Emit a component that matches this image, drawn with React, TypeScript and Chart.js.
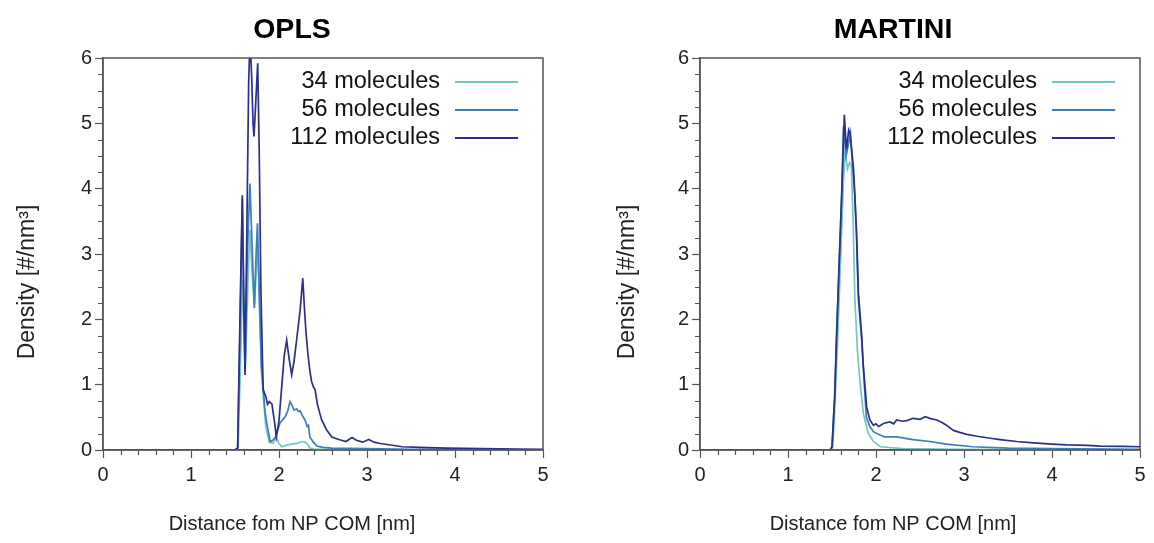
import React, { useEffect, useRef } from "react";
import { Chart, registerables } from "chart.js";

Chart.register(...registerables);

const FONT = "'Liberation Sans', Arial, Helvetica, sans-serif";

// ---------- labels ----------
const seriesLabels = ["34 molecules", "56 molecules", "112 molecules"];
const seriesColors = ["#74c6c8", "#3d7fb9", "#2b2f8d"];
const xAxisTitle = "Distance fom NP COM [nm]";
const yAxisTitle = "Density [#/nm³]";
const panelTitles = ["OPLS", "MARTINI"];

// ---------- OPLS ----------
const opls34X = [0, 1.5, 1.535, 1.56, 1.585, 1.605, 1.62, 1.645, 1.67, 1.695, 1.72, 1.74, 1.76, 1.78, 1.8, 1.815, 1.85, 1.89, 1.93, 1.97, 2.0, 2.03, 2.08, 2.14, 2.2, 2.26, 2.3, 2.33, 2.35, 2.4, 2.5, 3.0, 5.0];
const opls34Y = [0, 0, 0.03, 1.2, 2.6, 1.8, 1.3, 2.5, 3.37, 2.7, 2.2, 2.7, 3.1, 2.1, 1.2, 0.95, 0.35, 0.12, 0.1, 0.2, 0.1, 0.05, 0.07, 0.09, 0.1, 0.13, 0.12, 0.08, 0.03, 0.01, 0.01, 0.0, 0];

const opls56X = [0, 1.5, 1.53, 1.555, 1.583, 1.6, 1.614, 1.64, 1.67, 1.695, 1.72, 1.74, 1.755, 1.78, 1.8, 1.82, 1.84, 1.86, 1.9, 1.93, 1.96, 2.01, 2.07, 2.1, 2.125, 2.15, 2.17, 2.2, 2.22, 2.24, 2.26, 2.295, 2.32, 2.335, 2.35, 2.39, 2.43, 2.5, 2.6, 3.0, 3.5, 4.0, 5.0];
const opls56Y = [0, 0, 0.03, 1.7, 3.85, 2.2, 1.2, 3.0, 4.08, 3.1, 2.17, 3.0, 3.47, 2.2, 1.3, 0.97, 0.6, 0.41, 0.13, 0.15, 0.2, 0.41, 0.51, 0.6, 0.74, 0.68, 0.61, 0.63, 0.59, 0.6, 0.54, 0.46, 0.36, 0.38, 0.2, 0.12, 0.06, 0.04, 0.03, 0.02, 0.01, 0.01, 0];

const opls112X = [0, 1.5, 1.53, 1.555, 1.583, 1.6, 1.614, 1.635, 1.655, 1.67, 1.69, 1.705, 1.716, 1.735, 1.758, 1.775, 1.795, 1.82, 1.85, 1.87, 1.89, 1.92, 1.95, 1.97, 1.985, 2.0, 2.03, 2.06, 2.087, 2.115, 2.144, 2.17, 2.2, 2.24, 2.27, 2.29, 2.307, 2.33, 2.35, 2.37, 2.39, 2.41, 2.435, 2.46, 2.485, 2.54, 2.6, 2.68, 2.76, 2.83, 2.88, 2.95, 3.02, 3.08, 3.15, 3.25, 3.4, 3.6, 3.9, 4.3, 4.7, 5.0];
const opls112Y = [0, 0, 0.03, 1.9, 3.9, 2.3, 1.15, 3.4, 5.6, 6.3, 5.7, 5.0, 4.8, 5.3, 5.92, 4.6, 2.4, 0.92, 0.82, 0.7, 0.74, 0.7, 0.42, 0.2, 0.32, 0.45, 0.95, 1.45, 1.68, 1.4, 1.15, 1.35, 1.68, 2.14, 2.63, 2.15, 1.79, 1.45, 1.22, 1.05, 0.97, 0.92, 0.71, 0.58, 0.46, 0.31, 0.2, 0.16, 0.13, 0.19, 0.15, 0.12, 0.16, 0.12, 0.1, 0.08, 0.05, 0.04, 0.03, 0.02, 0.015, 0.01];

// ---------- MARTINI ----------
const mart34X = [0, 1.49, 1.51, 1.54, 1.57, 1.6, 1.63, 1.65, 1.675, 1.7, 1.72, 1.74, 1.76, 1.79, 1.82, 1.856, 1.91, 1.97, 2.05, 2.3, 3.0, 5.0];
const mart34Y = [0, 0, 0.05, 0.9, 1.9, 3.0, 4.1, 4.6, 4.3, 4.4, 4.35, 3.5, 2.3, 1.5, 1.02, 0.56, 0.26, 0.13, 0.05, 0.02, 0.01, 0];

const mart56X = [0, 1.48, 1.5, 1.53, 1.553, 1.58, 1.61, 1.63, 1.66, 1.69, 1.71, 1.73, 1.76, 1.78, 1.8, 1.837, 1.856, 1.89, 1.93, 1.97, 2.045, 2.1, 2.235, 2.42, 2.61, 2.8, 3.1, 3.5, 4.0, 5.0];
const mart56Y = [0, 0, 0.05, 0.8, 1.75, 2.8, 3.9, 4.95, 4.5, 4.7, 4.85, 4.4, 3.9, 3.2, 2.3, 1.7, 1.25, 0.5, 0.36, 0.28, 0.23, 0.2, 0.2, 0.16, 0.13, 0.09, 0.05, 0.03, 0.02, 0.01];

const mart112X = [0, 1.48, 1.5, 1.53, 1.553, 1.58, 1.61, 1.64, 1.65, 1.665, 1.69, 1.705, 1.72, 1.745, 1.78, 1.8, 1.837, 1.856, 1.894, 1.93, 1.97, 2.0, 2.03, 2.09, 2.16, 2.2, 2.235, 2.3, 2.35, 2.42, 2.5, 2.56, 2.62, 2.69, 2.75, 2.8, 2.88, 2.95, 3.03, 3.15, 3.3, 3.41, 3.6, 3.79, 4.0, 4.17, 4.4, 4.55, 4.8, 5.0];
const mart112Y = [0, 0, 0.05, 0.8, 1.79, 2.8, 3.9, 5.13, 4.9, 4.6, 4.9, 4.85, 4.64, 4.3, 3.3, 2.4, 1.75, 1.28, 0.66, 0.46, 0.38, 0.4, 0.36, 0.41, 0.43, 0.4, 0.46, 0.44, 0.45, 0.485, 0.47, 0.51, 0.48, 0.46, 0.42, 0.38, 0.3, 0.27, 0.24, 0.21, 0.18, 0.16, 0.13, 0.11, 0.09, 0.077, 0.07, 0.06, 0.055, 0.05];

const zip = (xs: number[], ys: number[]) => xs.map((x, i) => ({ x, y: ys[i] }));

const panels = [
  {
    title: panelTitles[0],
    series: [zip(opls34X, opls34Y), zip(opls56X, opls56Y), zip(opls112X, opls112Y)],
    pageLeft: 0,
    areaLeft: 103,
    padLeft: 41,
    padRight: 34,
    yTitleX: 28,
  },
  {
    title: panelTitles[1],
    series: [zip(mart34X, mart34Y), zip(mart56X, mart56Y), zip(mart112X, mart112Y)],
    pageLeft: 577,
    areaLeft: 123,
    padLeft: 69,
    padRight: 14,
    yTitleX: 51,
  },
];

const CW = 577;
const CH = 543;
const AXIS_COLOR = "#555";

const decorPlugin = {
  id: "decor",
  afterDatasetsDraw(chart: any, _args: any, opts: any) {
    const { ctx, chartArea } = chart;
    const xs = chart.scales.x;
    const ys = chart.scales.y;
    ctx.save();
    // minor ticks
    ctx.strokeStyle = AXIS_COLOR;
    ctx.lineWidth = 1.2;
    ctx.beginPath();
    for (let i = 0; i <= 25; i++) {
      if (i % 5 === 0) continue;
      const px = Math.round(xs.getPixelForValue(i * 0.2)) + 0.5;
      ctx.moveTo(px, chartArea.bottom);
      ctx.lineTo(px, chartArea.bottom + 5);
    }
    for (let i = 0; i <= 24; i++) {
      if (i % 4 === 0) continue;
      const py = Math.round(ys.getPixelForValue(i * 0.25)) + 0.5;
      ctx.moveTo(chartArea.left - 5, py);
      ctx.lineTo(chartArea.left, py);
    }
    ctx.stroke();
    // frame
    ctx.lineWidth = 1.5;
    ctx.strokeRect(chartArea.left, chartArea.top, chartArea.right - chartArea.left, chartArea.bottom - chartArea.top);
    // legend (text then line sample, right-aligned inside plot)
    ctx.font = `23.5px ${FONT}`;
    ctx.textAlign = "right";
    ctx.textBaseline = "middle";
    chart.data.datasets.forEach((ds: any, i: number) => {
      const y = chartArea.top + 24 + i * 28;
      ctx.fillStyle = "#111";
      ctx.fillText(ds.label, chartArea.right - 103, y);
      ctx.strokeStyle = ds.borderColor;
      ctx.lineWidth = 1.8;
      ctx.beginPath();
      ctx.moveTo(chartArea.right - 88, y);
      ctx.lineTo(chartArea.right - 25, y);
      ctx.stroke();
    });
    // x axis title, centred under the panel title
    const tb = chart.titleBlock;
    const cx = tb ? (tb.left + tb.right) / 2 : (chartArea.left + chartArea.right) / 2;
    ctx.font = `20px ${FONT}`;
    ctx.fillStyle = "#222";
    ctx.textAlign = "center";
    ctx.textBaseline = "middle";
    ctx.fillText(opts.xTitle, cx, chartArea.bottom + 74);
    // y axis title
    ctx.save();
    ctx.font = `23px ${FONT}`;
    ctx.fillStyle = "#222";
    ctx.textAlign = "center";
    ctx.textBaseline = "middle";
    ctx.translate(opts.yTitleX, (chartArea.top + chartArea.bottom) / 2 + 28);
    ctx.rotate(-Math.PI / 2);
    ctx.fillText(opts.yTitle, 0, 0);
    ctx.restore();
    ctx.restore();
  },
};

function Panel({ cfg }: { cfg: any }) {
  const ref = useRef<HTMLCanvasElement>(null);
  useEffect(() => {
    if (!ref.current) return;
    const chart = new Chart(ref.current, {
      type: "line",
      data: {
        datasets: cfg.series.map((pts: any, i: number) => ({
          label: seriesLabels[i],
          data: pts,
          borderColor: seriesColors[i],
          backgroundColor: seriesColors[i],
          borderWidth: 1.7,
          pointRadius: 0,
          tension: 0,
          fill: false,
          order: 3 - i,
        })),
      },
      options: {
        animation: false,
        responsive: false,
        devicePixelRatio: 1,
        layout: { padding: { left: cfg.padLeft, right: cfg.padRight, top: 0, bottom: 0 } },
        plugins: {
          legend: { display: false },
          tooltip: { enabled: false },
          title: {
            display: true,
            text: cfg.title,
            color: "#000",
            font: { family: FONT, size: 28.5, weight: "bold" },
            padding: { top: 13, bottom: 10.8 },
          },
          decor: { yTitleX: cfg.yTitleX, yTitle: yAxisTitle, xTitle: xAxisTitle },
        } as any,
        scales: {
          x: {
            type: "linear",
            min: 0,
            max: 5,
            ticks: { stepSize: 1, color: "#222", font: { family: FONT, size: 20 }, padding: 5, maxRotation: 0 },
            grid: { drawOnChartArea: false, drawTicks: true, tickLength: 8, tickColor: AXIS_COLOR, tickWidth: 1.2 },
            border: { color: AXIS_COLOR, width: 1.5 },
            afterFit: (s: any) => {
              s.height = 93;
            },
          },
          y: {
            type: "linear",
            min: 0,
            max: 6,
            ticks: { stepSize: 1, color: "#222", font: { family: FONT, size: 20 }, padding: 3 },
            grid: { drawOnChartArea: false, drawTicks: true, tickLength: 8, tickColor: AXIS_COLOR, tickWidth: 1.2 },
            border: { color: AXIS_COLOR, width: 1.5 },
            afterFit: (s: any) => {
              s.width = cfg.areaLeft - cfg.padLeft;
            },
          },
        },
      },
      plugins: [decorPlugin as any],
    });
    return () => chart.destroy();
  }, [cfg]);
  return (
    <div style={{ position: "absolute", left: cfg.pageLeft, top: 0, width: CW, height: CH }}>
      <canvas ref={ref} width={CW} height={CH} style={{ display: "block" }} />
    </div>
  );
}

export default function App() {
  return (
    <div style={{ position: "fixed", left: 0, top: 0, width: 1154, height: 543, background: "#fff" }}>
      {panels.map((p) => (
        <Panel key={p.title} cfg={p} />
      ))}
    </div>
  );
}
